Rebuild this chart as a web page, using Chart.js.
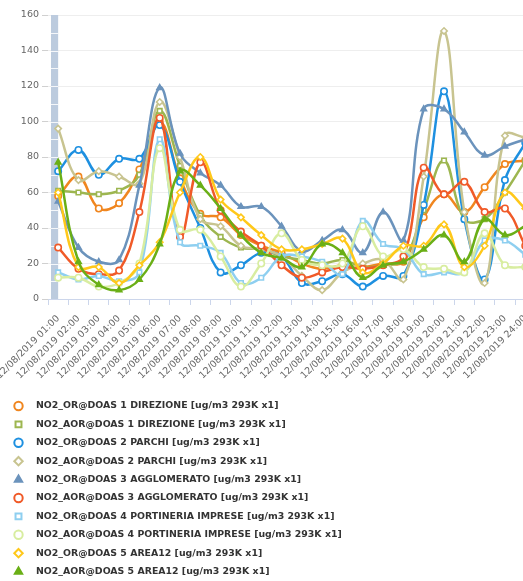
<!DOCTYPE html>
<html>
<head>
<meta charset="utf-8">
<script src="https://cdn.jsdelivr.net/npm/chart.js@4/dist/chart.umd.min.js"></script>
<style>
  html, body { margin: 0; padding: 0; background: #fff; overflow: hidden; }
  #wrap { position: absolute; left: 0; top: 0; width: 541px; height: 581px; }
</style>
</head>
<body>
<div id="wrap"><canvas id="c" width="541" height="581"></canvas></div>
<script>
// Hourly NO2 readings, 12/08/2019
const hours = [
  '12/08/2019 01:00', '12/08/2019 02:00', '12/08/2019 03:00', '12/08/2019 04:00',
  '12/08/2019 05:00', '12/08/2019 06:00', '12/08/2019 07:00', '12/08/2019 08:00',
  '12/08/2019 09:00', '12/08/2019 10:00', '12/08/2019 11:00', '12/08/2019 12:00',
  '12/08/2019 13:00', '12/08/2019 14:00', '12/08/2019 15:00', '12/08/2019 16:00',
  '12/08/2019 17:00', '12/08/2019 18:00', '12/08/2019 19:00', '12/08/2019 20:00',
  '12/08/2019 21:00', '12/08/2019 22:00', '12/08/2019 23:00', '12/08/2019 24:00'
];

const seriesNames = [
  'NO2_OR@DOAS 1 DIREZIONE [ug/m3 293K x1]',
  'NO2_AOR@DOAS 1 DIREZIONE [ug/m3 293K x1]',
  'NO2_OR@DOAS 2 PARCHI [ug/m3 293K x1]',
  'NO2_AOR@DOAS 2 PARCHI [ug/m3 293K x1]',
  'NO2_OR@DOAS 3 AGGLOMERATO [ug/m3 293K x1]',
  'NO2_AOR@DOAS 3 AGGLOMERATO [ug/m3 293K x1]',
  'NO2_OR@DOAS 4 PORTINERIA IMPRESE [ug/m3 293K x1]',
  'NO2_AOR@DOAS 4 PORTINERIA IMPRESE [ug/m3 293K x1]',
  'NO2_OR@DOAS 5 AREA12 [ug/m3 293K x1]',
  'NO2_AOR@DOAS 5 AREA12 [ug/m3 293K x1]'
];

const orDirezione1   = [58, 69, 51, 54, 73, 100, 68, 48, 46, 36, 30, 26, 20, 17, 19, 18, 20, 21, 46, 59, 49, 63, 76, 78];
const aorDirezione1  = [61, 60, 59, 61, 70, 106, 75, 47, 35, 29, 28, 24, 22, 20, 22, 18, 19, 22, 50, 78, 45, 45, 60, 78];
const orParchi2      = [72, 84, 70, 79, 79, 98, 66, 40, 15, 19, 26, 24, 9, 10, 14, 7, 13, 13, 53, 117, 45, 11, 67, 88];
const aorParchi2     = [96, 67, 72, 69, 65, 111, 80, 45, 41, 30, 28, 24, 13, 5, 15, 20, 22, 11, 69, 151, 49, 9, 92, 91];
const orAgglomerato3 = [55, 29, 21, 22, 64, 119, 82, 71, 64, 52, 52, 41, 27, 33, 39, 26, 49, 33, 107, 107, 94, 81, 86, 90];
const aorAgglomerato3= [29, 17, 14, 16, 49, 102, 35, 77, 50, 38, 30, 19, 12, 15, 18, 17, 19, 24, 74, 59, 66, 49, 51, 30];
const orPortineria4  = [15, 11, 13, 10, 15, 90, 32, 30, 26, 9, 12, 24, 24, 21, 14, 44, 31, 28, 14, 15, 15, 33, 33, 25];
const aorPortineria4 = [12, 12, 7, 9, 20, 85, 39, 39, 24, 7, 20, 37, 22, 19, 20, 41, 24, 28, 18, 17, 15, 37, 19, 18];
const orArea12       = [60, 18, 18, 9, 19, 32, 60, 80, 56, 46, 36, 28, 28, 31, 34, 15, 20, 30, 30, 42, 18, 30, 60, 51];
const aorArea12      = [77, 21, 8, 5, 11, 31, 72, 64, 51, 36, 26, 23, 18, 31, 26, 12, 19, 21, 28, 36, 21, 45, 36, 41];

const yTicks = [0, 20, 40, 60, 80, 100, 120, 140, 160];

const seriesValues = [orDirezione1, aorDirezione1, orParchi2, aorParchi2, orAgglomerato3,
                      aorAgglomerato3, orPortineria4, aorPortineria4, orArea12, aorArea12];
const seriesColors = ['#F0861F', '#9DB650', '#1E90E0', '#C8C490', '#6B93BC',
                      '#F05A28', '#8ECFF0', '#D8EDA0', '#FFC81A', '#6AAF16'];
const seriesMarkers = ['circle', 'rect', 'circle', 'rectRot', 'triangle',
                       'circle', 'rect', 'circle', 'rectRot', 'triangle'];

const FONT = '"DejaVu Sans", Verdana, sans-serif';

const datasets = seriesValues.map((vals, i) => ({
  label: seriesNames[i],
  data: vals,
  borderColor: seriesColors[i],
  backgroundColor: seriesColors[i],
  borderWidth: 2.5,
  tension: 0.4,
  fill: false,
  pointStyle: seriesMarkers[i],
  pointRadius: 3.2,
  pointBorderWidth: 1.6,
  pointBorderColor: seriesColors[i],
  pointBackgroundColor: seriesMarkers[i] === 'triangle' ? seriesColors[i] : '#ffffff',
  order: seriesValues.length - 1 - i
}));

// light band on the left edge of the plot
const leftBand = {
  id: 'leftBand',
  beforeDatasetsDraw(chart) {
    const { ctx, chartArea, scales } = chart;
    const xs = scales.x, ys = scales.y;
    const right = xs.getPixelForValue(0);
    const left = chartArea.left + 3;
    ctx.save();
    ctx.fillStyle = '#BCCBDE';
    ctx.fillRect(left, chartArea.top, right - left, chartArea.bottom - chartArea.top);
    ctx.strokeStyle = 'rgba(255,255,255,0.85)';
    ctx.lineWidth = 1;
    for (let v = 10; v < 160; v += 10) {
      const py = Math.round(ys.getPixelForValue(v)) + 0.5;
      ctx.beginPath();
      ctx.moveTo(left, py);
      ctx.lineTo(right, py);
      ctx.stroke();
    }
    ctx.restore();
  }
};

// one legend entry per row below the axis
const rowLegend = {
  id: 'rowLegend',
  afterDraw(chart) {
    const ctx = chart.ctx;
    const top = 406, step = 18.4;
    ctx.save();
    ctx.font = 'bold 9.4px ' + FONT;
    ctx.textBaseline = 'middle';
    ctx.textAlign = 'left';
    chart.data.datasets.forEach((ds, i) => {
      const cy = top + i * step;
      ctx.fillStyle = ds.pointStyle === 'triangle' ? ds.borderColor : '#ffffff';
      ctx.strokeStyle = ds.borderColor;
      ctx.lineWidth = 2;
      Chart.helpers.drawPoint(ctx, { pointStyle: ds.pointStyle, radius: 4.2, borderWidth: 2, rotation: 0 }, 18.5, cy);
      ctx.fillStyle = '#333333';
      ctx.fillText(ds.label, 36, cy);
    });
    ctx.restore();
  }
};

new Chart(document.getElementById('c'), {
  type: 'line',
  data: { labels: hours, datasets },
  plugins: [leftBand, rowLegend],
  options: {
    responsive: false,
    devicePixelRatio: 1,
    animation: false,
    layout: { padding: { top: 15, left: 0, right: 0, bottom: 182 } },
    plugins: { legend: { display: false }, tooltip: { enabled: false } },
    scales: {
      x: {
        type: 'category',
        offset: true,
        grid: { offset: true, drawOnChartArea: false, drawTicks: true, tickLength: 6, color: '#ccd6eb' },
        border: { display: true, color: '#ccd6eb', width: 1 },
        ticks: {
          autoSkip: false, maxRotation: 45, minRotation: 45,
          color: '#666666', font: { family: FONT, size: 9.5 }, padding: 8
        },
        afterFit(scale) {
          scale.height = 100;
          scale.paddingLeft = 0;
          scale.paddingRight = 0;
        }
      },
      y: {
        min: 0, max: 160,
        afterBuildTicks(scale) { scale.ticks = yTicks.map(v => ({ value: v })); },
        grid: { color: '#eeeeee', tickColor: '#d0d0d0', tickLength: 6 },
        border: { display: false },
        ticks: { color: '#666666', font: { family: FONT, size: 9.5 }, padding: 3 },
        afterFit(scale) {
          scale.width = 48;
          scale.paddingTop = 0;
          scale.paddingBottom = 0;
        }
      }
    }
  }
});
</script>
</body>
</html>
